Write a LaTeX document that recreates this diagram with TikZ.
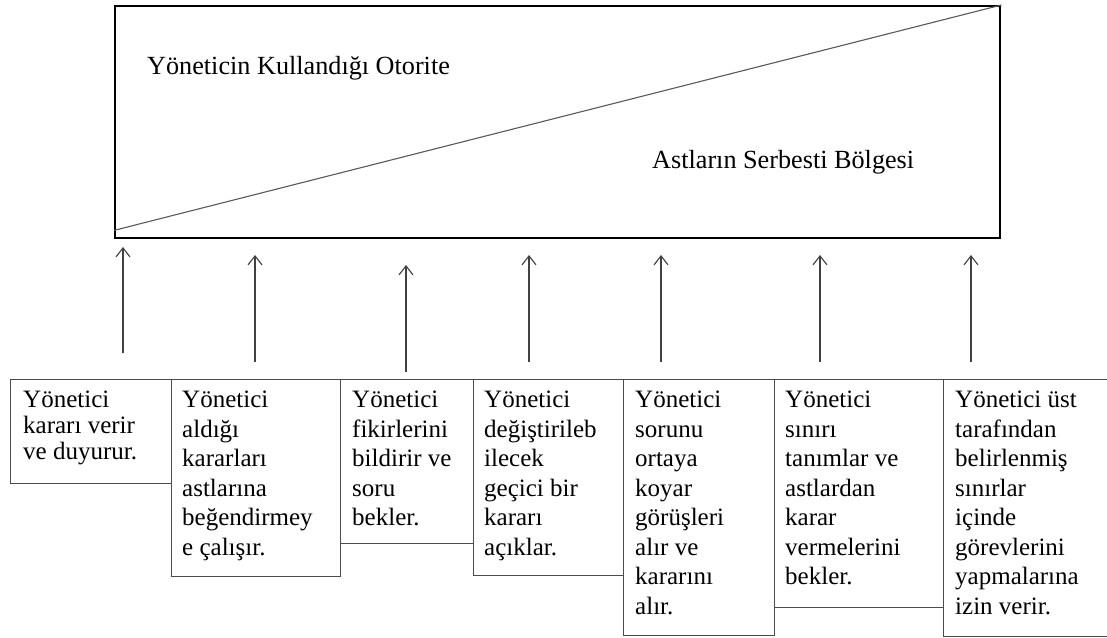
\documentclass[tikz,border=0pt]{standalone}
\usepackage{fontspec}
\setmainfont{Liberation Serif}
\usetikzlibrary{arrows.meta,calc}
\begin{document}
\begin{tikzpicture}[x=1pt,y=-1pt,
  authbox/.style={draw=black,line width=2.4pt,inner sep=0pt,anchor=north west},
  divider/.style={draw=black!65,line width=1.1pt},
  stepbox/.style={draw=black!70,line width=1.2pt,inner sep=0pt,anchor=north west},
  boxtext/.style={anchor=north west,inner sep=0pt,align=left,font=\fontsize{25}{29.5}\selectfont},
  tighttext/.style={boxtext,font=\fontsize{25}{26}\selectfont},
  areatext/.style={anchor=base west,inner sep=0pt,font=\fontsize{26.2}{30}\selectfont},
  riser/.style={draw=black!75,line width=1.1pt,-{Straight Barb[length=9pt,width=14pt]}}
]
\useasboundingbox[fill=white] (0,0) rectangle (1107,637);

% authority / freedom area
\node[authbox,minimum width=885pt,minimum height=232pt] (auth) at (114,5) {};
\draw[divider] ($(auth.south west)+(0,-9)$) -- (auth.north east);
\node[areatext] (boss) at (147,74) {Yöneticin Kullandığı Otorite};
\node[areatext] (free) at (652,168) {Astların Serbesti Bölgesi};

% leadership styles
\node[stepbox,minimum width=161pt,minimum height=104pt] (b1) at (10,379) {};
\node[stepbox,minimum width=169pt,minimum height=197pt] (b2) at (171,379) {};
\node[stepbox,minimum width=133pt,minimum height=164pt] (b3) at (340,379) {};
\node[stepbox,minimum width=150pt,minimum height=196pt] (b4) at (473,379) {};
\node[stepbox,minimum width=151pt,minimum height=256pt] (b5) at (623,379) {};
\node[stepbox,minimum width=169pt,minimum height=228pt] (b6) at (774,379) {};
\node[stepbox,minimum width=170pt,minimum height=257pt] (b7) at (943,379) {};

\node[tighttext] (t1) at (23,391) {Yönetici\\kararı verir\\ve duyurur.};
\node[boxtext] (t2) at (182,391) {Yönetici\\aldığı\\kararları\\astlarına\\beğendirmey\\e çalışır.};
\node[boxtext] (t3) at (352,391) {Yönetici\\fikirlerini\\bildirir ve\\soru\\bekler.};
\node[boxtext] (t4) at (484,391) {Yönetici\\değiştirileb\\ilecek\\geçici bir\\kararı\\açıklar.};
\node[boxtext] (t5) at (635,391) {Yönetici\\sorunu\\ortaya\\koyar\\görüşleri\\alır ve\\kararını\\alır.};
\node[boxtext] (t6) at (785,391) {Yönetici\\sınırı\\tanımlar ve\\astlardan\\karar\\vermelerini\\bekler.};
\node[boxtext] (t7) at (955,391) {Yönetici üst\\tarafından\\belirlenmiş\\sınırlar\\içinde\\görevlerini\\yapmalarına\\izin verir.};

% arrows pointing up to the area
\coordinate (s1) at (123,353); \coordinate (e1) at (123,247);
\coordinate (s2) at (255,362); \coordinate (e2) at (255,255);
\coordinate (s3) at (406,372); \coordinate (e3) at (406,265);
\coordinate (s4) at (529,362); \coordinate (e4) at (529,255);
\coordinate (s5) at (661,362); \coordinate (e5) at (661,255);
\coordinate (s6) at (820,362); \coordinate (e6) at (820,255);
\coordinate (s7) at (971,362); \coordinate (e7) at (971,255);
\foreach \i in {1,...,7} {\draw[riser] (s\i) -- (e\i);}
\end{tikzpicture}
\end{document}
